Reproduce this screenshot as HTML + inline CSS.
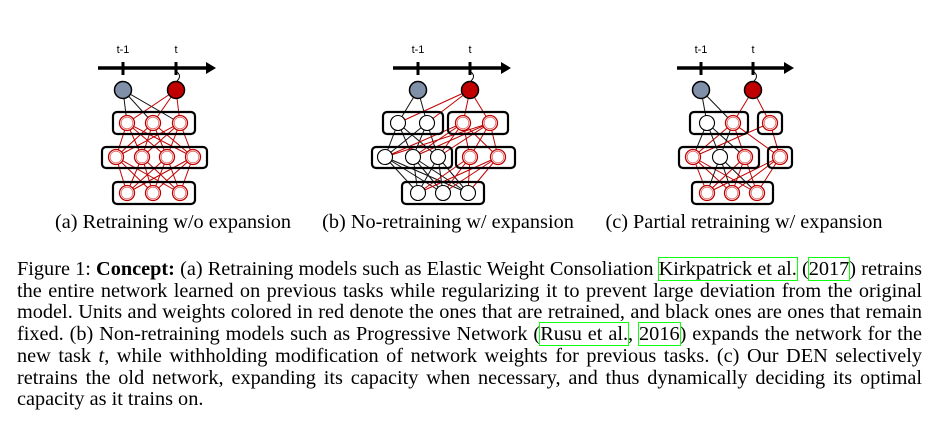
<!DOCTYPE html>
<html><head><meta charset="utf-8"><style>
body{margin:0;width:938px;height:436px;background:#fff;overflow:hidden;position:relative;font-family:"Liberation Serif",serif;color:#000}
svg{position:absolute;left:0;top:0}
.cap{position:absolute;top:211px;font-size:20.3px;white-space:nowrap;transform:translateX(-50%)}
.ln{position:absolute;left:17px;width:905px;font-size:20.3px;line-height:21.7px;text-align:justify;text-align-last:justify;white-space:nowrap}
.ln.last{text-align-last:left}
.g{outline:1px solid #1f1;outline-offset:0}
</style></head><body>
<svg id="s" width="938" height="436" xmlns="http://www.w3.org/2000/svg"></svg>
<div class="cap" style="left:173px">(a) Retraining w/o expansion</div>
<div class="cap" style="left:448px">(b) No-retraining w/ expansion</div>
<div class="cap" style="left:744px">(c) Partial retraining w/ expansion</div>
<div style="position:absolute;top:259px;left:0">
<div class="ln" style="top:0">Figure 1: <b>Concept:</b> (a) Retraining models such as Elastic Weight Consoliation <span class="g">Kirkpatrick et al.</span> (<span class="g">2017</span>) retrains</div>
<div class="ln" style="top:21.7px">the entire network learned on previous tasks while regularizing it to prevent large deviation from the original</div>
<div class="ln" style="top:43.4px">model. Units and weights colored in red denote the ones that are retrained, and black ones are ones that remain</div>
<div class="ln" style="top:65.1px">fixed. (b) Non-retraining models such as Progressive Network (<span class="g">Rusu et al.</span>, <span class="g">2016</span>) expands the network for the</div>
<div class="ln" style="top:86.8px">new task <i>t</i>, while withholding modification of network weights for previous tasks. (c) Our DEN selectively</div>
<div class="ln" style="top:108.5px">retrains the old network, expanding its capacity when necessary, and thus dynamically deciding its optimal</div>
<div class="ln last" style="top:130.2px">capacity as it trains on.</div>
</div>
<script>
const s=document.getElementById('s');let h='';
const R='#c00000',K='#111';
function L(a,b,c){h+=`<line x1="${a[0]}" y1="${a[1]}" x2="${b[0]}" y2="${b[1]}" stroke="${c}" stroke-width="1"/>`;}
function box(x1,x2,y1,y2){h+=`<rect x="${x1}" y="${y1}" width="${x2-x1}" height="${y2-y1}" rx="4" fill="none" stroke="#000" stroke-width="2.2"/>`;}
function unit(p,red){if(red){h+=`<circle cx="${p[0]}" cy="${p[1]}" r="7.5" fill="#fff" stroke="${R}" stroke-width="1.3"/><circle cx="${p[0]}" cy="${p[1]}" r="5.8" fill="none" stroke="#e06060" stroke-width="0.8"/>`}else h+=`<circle cx="${p[0]}" cy="${p[1]}" r="7.5" fill="#fff" stroke="#000" stroke-width="1.1"/>`;}
function axis(x1,x2,t1,t2){h+=`<line x1="${x1}" y1="68" x2="${x2-8}" y2="68" stroke="#000" stroke-width="3.5"/><polygon points="${x2-10},62 ${x2},68 ${x2-10},74" fill="#000"/>`;
 [t1,t2].forEach((t,i)=>{h+=`<line x1="${t}" y1="62" x2="${t}" y2="75" stroke="#000" stroke-width="3"/><text x="${t}" y="53" font-family="Liberation Sans,sans-serif" font-size="11" text-anchor="middle">${i?'t':'t-1'}</text>`});
 h+=`<path d="M${t2+1},72 q5,4 0,9" fill="none" stroke="#000" stroke-width="1"/>`;}
function heads(t1,t2){h+=`<circle cx="${t1}" cy="90" r="8.5" fill="#8090a8" stroke="#000" stroke-width="1.5"/><circle cx="${t2}" cy="90" r="8.5" fill="#c00000" stroke="#000" stroke-width="1.5"/>`;}
function full(A,B,c){A.forEach(a=>B.forEach(b=>L(a,b,c)));}
// (a)
axis(98,216,123,176);
let a1=[[127,123],[153,123],[180,123]],a2=[[116,157],[142,157],[167,157],[193,157]],a3=[[127,193],[153,193],[180,193]];
full([[123,90]],a1,K);full([[176,90]],a1,R);full(a1,a2,R);full(a2,a3,R);heads(123,176);
box(113,195,112,134);box(102,207,147,168);box(113,195,182,204);
a1.concat(a2,a3).forEach(p=>unit(p,1));
// (b)
axis(393,511,418,470);
let b1l=[[398,123],[427,123]],b1r=[[463,123],[490,123]],b2l=[[385,157],[413,157],[438,157]],b2r=[[470,157],[498,157]],b3=[[418,193],[443,193],[468,193]];
full([[418,90]],b1l,K);full(b1l,b2l,K);full(b2l,b3,K);
full([[470,90]],b1l.concat(b1r),R);full(b1r,b2l.concat(b2r),R);full(b2r,b3,R);heads(418,470);
box(383,443,112,134);box(448,508,112,134);box(372,452,147,168);box(456,515,147,168);box(402,484,182,204);
b1l.concat(b2l,b3).forEach(p=>unit(p,0));b1r.concat(b2r).forEach(p=>unit(p,1));
// (c)
axis(677,794,701,753);
let c1=[[707,123,0],[733,123,1]],c1r=[[770,123,1]],c2=[[693,157,1],[720,157,0],[745,157,1]],c2r=[[780,157,1]],c3=[[707,193,1],[732,193,1],[757,193,1]];
full([[701,90]],c1,K);full([[753,90]],[c1[1],c1r[0]],R);
c1.forEach(a=>c2.forEach(b=>L(a,b,(a[2]&&b[2])?R:K)));
L(c1[1],c2r[0],R);L(c1r[0],c2r[0],R);L(c1r[0],c2[0],R);
c2.concat(c2r).forEach(a=>c3.forEach(b=>L(a,b,a[2]?R:K)));heads(701,753);
box(690,748,112,134);box(758,782,112,134);box(679,759,147,168);box(768,792,147,168);box(692,773,182,204);
c1.concat(c1r,c2,c2r,c3).forEach(p=>unit(p,p[2]));
s.innerHTML=h;
</script>
</body></html>
